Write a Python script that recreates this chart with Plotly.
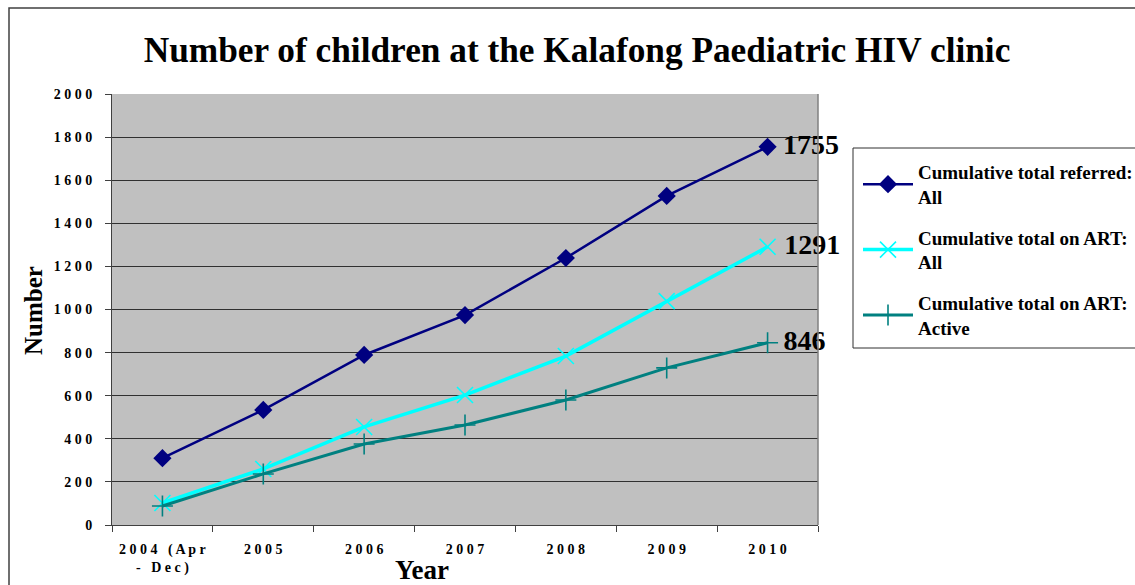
import plotly.graph_objects as go

# ---- data ----
categories = ["2004 (Apr - Dec)", "2005", "2006", "2007", "2008", "2009", "2010"]
tick_labels = ["2004 (Apr<br>- Dec)", "2005", "2006", "2007", "2008", "2009", "2010"]
referred_all = [310, 534, 789, 974, 1239, 1527, 1755]
art_all = [102, 260, 455, 603, 784, 1039, 1291]
art_active = [88, 237, 376, 464, 580, 729, 846]
y_ticks = [0, 200, 400, 600, 800, 1000, 1200, 1400, 1600, 1800, 2000]

series_names = ["Cumulative total referred:<br>All",
                "Cumulative total on ART:<br>All",
                "Cumulative total on ART:<br>Active"]

SERIF = "Liberation Serif, Times New Roman, serif"


def spaced(s, sep=" "):
    return "<br>".join(sep.join(list(part)) for part in s.split("<br>"))


def end_label(vals):
    return [""] * (len(vals) - 1) + ["\u2009" + str(vals[-1])]


W, H = 1135, 585
L, R, T, B = 112, 818, 94, 525


def px_x(p):
    return (p - L) / (R - L)


def px_y(p):
    return (B - p) / (B - T)


fig = go.Figure()

styles = [
    dict(color="#000080", width=2.5, symbol="diamond", msize=14, mline=0),
    dict(color="#00FFFF", width=3.5, symbol="x-thin", msize=16, mline=1.6),
    dict(color="#008080", width=3, symbol="cross-thin", msize=15, mline=1.6),
]
data = [referred_all, art_all, art_active]

for i, (name, vals, st) in enumerate(zip(series_names, data, styles)):
    fig.add_trace(go.Scatter(
        x=categories, y=vals, name=name, legendgroup=f"g{i}",
        mode="lines+markers+text",
        text=end_label(vals),
        textposition="middle right",
        textfont=dict(family=SERIF, size=28, color="black", weight="bold"),
        line=dict(color=st["color"], width=st["width"]),
        marker=dict(symbol=st["symbol"], size=st["msize"], color=st["color"],
                    line=dict(color=st["color"], width=st["mline"])),
        cliponaxis=False,
    ))

fig.update_layout(
    width=W, height=H,
    margin=dict(l=L, r=W - R, t=T, b=H - B, pad=0, autoexpand=False),
    paper_bgcolor="white",
    plot_bgcolor="#C0C0C0",
    font=dict(family=SERIF, color="black"),
    title=dict(text="<b>Number of children at the Kalafong Paediatric HIV clinic</b>",
               font=dict(family=SERIF, size=35.3, color="black"),
               x=px_x(577), xanchor="center", xref="paper",
               y=1 - 50 / H, yanchor="middle"),
    showlegend=True,
    legend=dict(xref="container", yref="container",
                x=858 / W, y=1 - 153 / H, xanchor="left", yanchor="top",
                bgcolor="rgba(0,0,0,0)", borderwidth=0,
                font=dict(family=SERIF, size=19, color="black", weight="bold"),
                itemwidth=50, tracegroupgap=13),
    xaxis=dict(
        type="category",
        tickmode="array", tickvals=categories,
        ticktext=[spaced(t) for t in tick_labels],
        tickson="boundaries",
        ticks="outside", ticklen=6, tickcolor="#404040",
        tickfont=dict(family=SERIF, size=14, color="black", weight="bold"),
        ticklabelstandoff=11,
        showline=True, linecolor="#404040", linewidth=1,
        showgrid=False, zeroline=False,
        range=[-0.5, 6.5],
    ),
    yaxis=dict(
        range=[0, 2000],
        tickmode="array", tickvals=y_ticks,
        ticktext=[spaced(str(v)) for v in y_ticks],
        ticks="outside", ticklen=6, tickcolor="#404040",
        tickfont=dict(family=SERIF, size=14, color="black", weight="bold"),
        ticklabelstandoff=10,
        showline=True, linecolor="#404040", linewidth=1,
        showgrid=True, gridcolor="#303030", gridwidth=1,
        zeroline=False,
    ),
)

# plot area right border (gray)
fig.add_shape(type="line", xref="paper", yref="paper", x0=1, x1=1, y0=0, y1=1,
              line=dict(color="#808080", width=1.5))

# legend box (extends past the right edge as in the original)
fig.add_shape(type="rect", xref="paper", yref="paper",
              x0=px_x(853), x1=px_x(1145), y0=px_y(348), y1=px_y(148),
              line=dict(color="#303030", width=1), fillcolor="rgba(0,0,0,0)")

# outer chart border (left and top visible)
fig.add_shape(type="rect", xref="paper", yref="paper",
              x0=px_x(9), x1=px_x(1150), y0=px_y(600), y1=px_y(8),
              line=dict(color="#404040", width=1.5), fillcolor="rgba(0,0,0,0)")

# axis titles
fig.add_annotation(text="<b>Year</b>", xref="paper", yref="paper",
                   x=px_x(422), y=px_y(570), xanchor="center", yanchor="middle",
                   showarrow=False, font=dict(family=SERIF, size=27, color="black"))
fig.add_annotation(text="<b>Number</b>", xref="paper", yref="paper",
                   x=px_x(33), y=px_y(311), xanchor="center", yanchor="middle",
                   textangle=-90, showarrow=False,
                   font=dict(family=SERIF, size=25, color="black"))

fig.write_html("out.html", config={"displayModeBar": False},
               post_script="document.body.style.margin='0px';")
